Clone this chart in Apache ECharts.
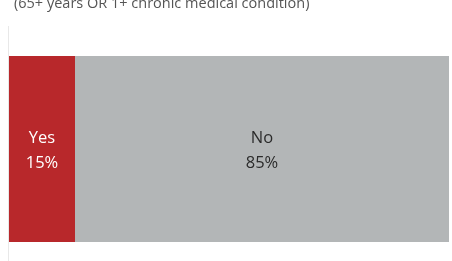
<!DOCTYPE html>
<html>
<head>
<meta charset="utf-8">
<script src="https://cdn.jsdelivr.net/npm/echarts@6/dist/echarts.min.js"></script>
<style>
  html, body { margin: 0; padding: 0; background: #fff; }
  #chart { width: 452px; height: 261px; }
</style>
</head>
<body>
<div id="chart"></div>
<script>
const categories = ['High risk']
const answers = ['Yes', 'No']
const shares = [15, 85]
const colors = ['#b8282b', '#b3b6b7']
const labelColors = ['#ffffff', '#2b2b2b']

const chart = echarts.init(document.getElementById('chart'))

const series = answers.map((name, i) => {
  return {
    name: name,
    type: 'bar',
    stack: 'total',
    barWidth: '100%',
    data: [shares[i]],
    itemStyle: { color: colors[i] },
    label: {
      show: true,
      position: 'inside',
      offset: [0, 2],
      formatter: name + '\n' + shares[i] + '%',
      color: labelColors[i],
      fontFamily: 'Open Sans',
      fontSize: 16.5,
      lineHeight: 25
    }
  }
})

chart.setOption({
  animation: false,
  title: {
    text: '(65+ years OR 1+ chronic medical condition)',
    left: 9,
    top: -9,
    textStyle: {
      fontFamily: 'Open Sans',
      fontWeight: 'normal',
      fontSize: 14.5,
      color: '#555555'
    }
  },
  grid: { left: 9, right: 3, top: 56, bottom: 19 },
  xAxis: {
    type: 'value',
    min: 0,
    max: 100,
    show: false
  },
  yAxis: {
    type: 'category',
    data: categories,
    show: false
  },
  graphic: [
    {
      type: 'line',
      shape: { x1: 8.5, y1: 26, x2: 8.5, y2: 261 },
      style: { stroke: '#e8e8e8', lineWidth: 1 }
    }
  ],
  series: series
})
</script>
</body>
</html>
